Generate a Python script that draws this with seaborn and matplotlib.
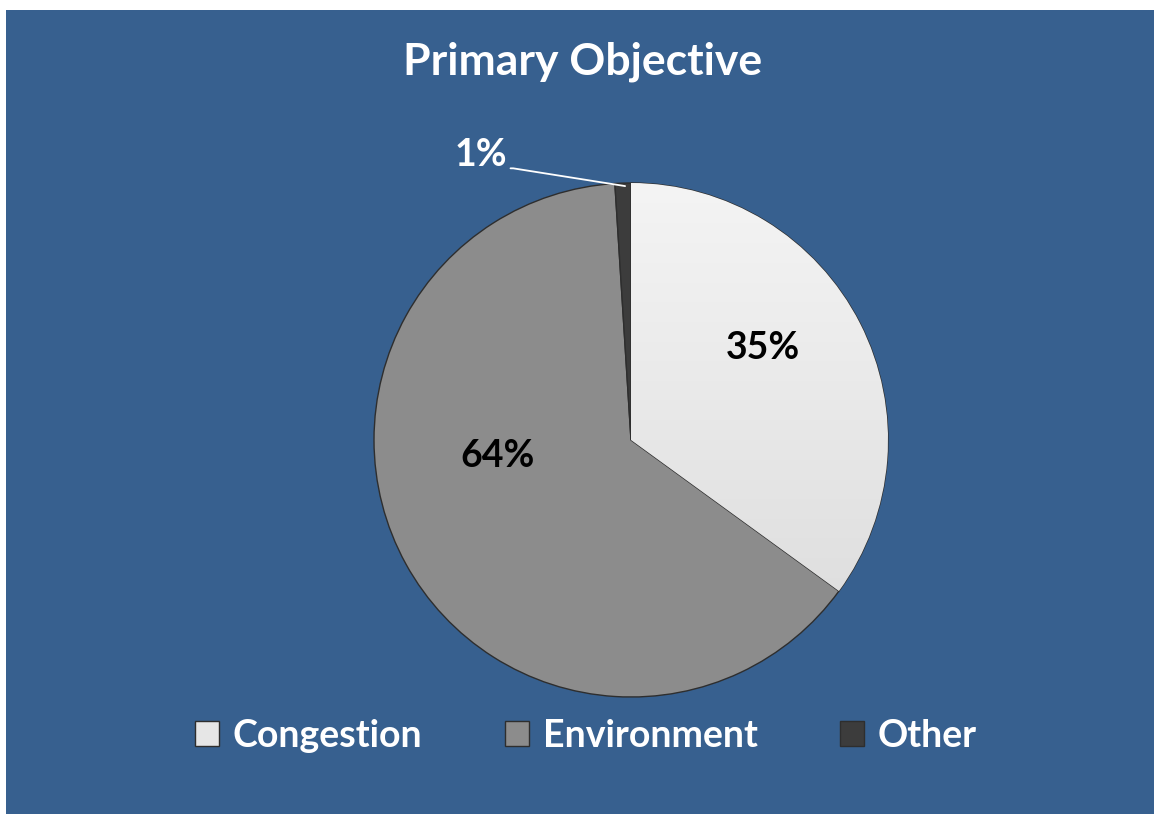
import matplotlib
matplotlib.use("Agg")
import matplotlib.pyplot as plt
from matplotlib.patches import Rectangle
from matplotlib.colors import LinearSegmentedColormap
import numpy as np
import seaborn as sns

# ---- data ----
categories = ["Congestion", "Environment", "Other"]
shares = [35, 64, 1]
label_texts = ["35%", "64%", "1%"]
title_text = "Primary Objective"

# ---- style ----
sns.set_theme(style="white")
plt.rcParams['font.family'] = ['Lato', 'DejaVu Sans']
BG = "#37608F"
slice_colors = ["#E6E6E6", "#8C8C8C", "#3C3C3C"]

W, H = 1154, 814
fig = plt.figure(figsize=(W / 100, H / 100), dpi=100)
fig.patch.set_facecolor("white")
fig.add_artist(Rectangle((6 / W, 0), 1 - 6 / W, 1 - 10 / H, transform=fig.transFigure,
                         facecolor=BG, edgecolor="none", zorder=0))

# pie axes: centre (631, 440) px, radius 257 px, limits +/-1.2
cx, cy, R = 631, 440, 257
L = 1.2
side = 2 * R * L
ax = fig.add_axes([(cx - side / 2) / W, (H - cy - side / 2) / H, side / W, side / H])

wedges, _ = ax.pie(shares, colors=slice_colors, startangle=90, counterclock=False,
                   radius=1.0, wedgeprops=dict(edgecolor="#2E2E2E", linewidth=1.0))
ax.set_xlim(-L, L)
ax.set_ylim(-L, L)
ax.set_aspect("equal")
ax.axis("off")

# light gradient on the congestion slice (lighter at top)
grad = np.linspace(0.0, 1.0, 256).reshape(-1, 1)
cmap = LinearSegmentedColormap.from_list("g", ["#F4F4F4", "#DADADA"])
im = ax.imshow(grad, extent=[-1, 1, -1, 1], cmap=cmap, origin="upper", zorder=1.5, aspect="auto")
im.set_clip_path(wedges[0])

FS = 27
# data labels (positions in data units, style constants)
label_pos = [(0.513, 0.358), (-0.521, -0.062)]
for (x, y), t in zip(label_pos, label_texts[:2]):
    ax.text(x, y, t, ha="center", va="center", fontsize=FS, fontweight="bold", color="black", zorder=5)

ax.annotate(label_texts[2], xy=(-0.023, 0.988), xytext=(-0.584, 1.11),
            ha="center", va="center", fontsize=FS, fontweight="bold", color="white",
            arrowprops=dict(arrowstyle="-", color="white", lw=1.3, shrinkA=0, shrinkB=0,
                            relpos=(1.0, 0.1),
                            connectionstyle="arc,angleA=0,angleB=-8,armA=6,armB=0,rad=0"),
            annotation_clip=False, zorder=5)

fig.text(583 / W, 1 - 62 / H, title_text, ha="center", va="center", fontsize=32,
         fontweight="bold", color="white")

leg = fig.legend(wedges, categories, loc="center", bbox_to_anchor=(586 / W, 1 - 736 / H), ncol=3,
                 frameon=False, fontsize=FS, handlelength=0.64, handleheight=0.64,
                 handletextpad=0.37, columnspacing=2.2)
for t in leg.get_texts():
    t.set_color("white")
    t.set_fontweight("bold")

fig.savefig("out.png", dpi=100, facecolor=fig.get_facecolor())
